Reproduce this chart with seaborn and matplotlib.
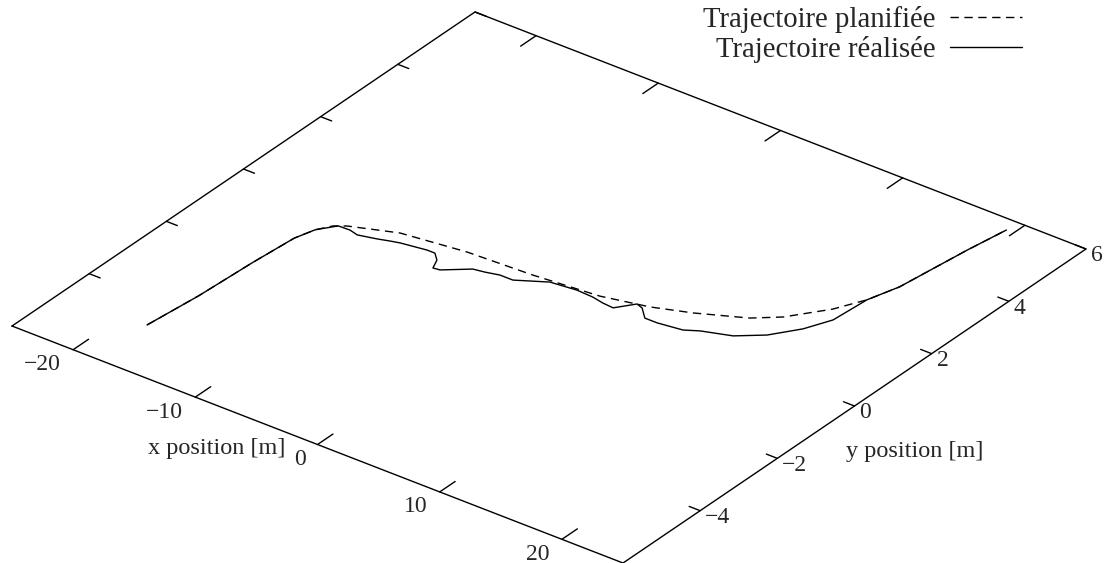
import numpy as np
import matplotlib
matplotlib.use("Agg")
import matplotlib.pyplot as plt
import matplotlib.transforms as mtransforms
import seaborn as sns

# ---- axes ranges / ticks ----
x_range = [-25, 25]
y_range = [-6, 6]
x_ticks = [-20, -10, 0, 10, 20]
x_tick_labels = ["\u221220", "\u221210", "0", "10", "20"]
y_ticks = [-4, -2, 0, 2, 4, 6]
y_tick_labels = ["\u22124", "\u22122", "0", "2", "4", "6"]

# ---- planned trajectory (m) ----
plan_x = [-18.05, -17.6, -17.35, -17.05, -16.6, -15.97, -15.24, -11.94, -6.99, -1.79,
          3.31, 6.75, 9.45, 12.8, 14.45, 16.43, 17.5, 18.2, 18.9, 19.4]
plan_y = [-4.70, -3.5, -2.2, -1.2, -0.8, -0.54, -0.41, -0.08, 0.09, 0.15,
          0.27, 0.48, 0.74, 1.15, 1.49, 2.15, 2.70, 3.32, 4.85, 5.71]

# ---- realised trajectory (m) ----
real_x = [-18.05, -17.6, -17.35, -17.05, -16.6, -15.7, -14.77, -14.02, -12.68, -11.85,
          -11.17, -9.23, -8.58, -7.94, -7.54, -7.02, -5.38, -4.52, -3.51, -2.45,
          -0.37, 1.65, 3.02, 4.0, 4.9, 5.85, 6.42, 7.34, 8.35, 10.24,
          11.2, 13.3, 15.0, 16.4, 17.28, 17.5, 18.2, 18.9, 19.4]
real_y = [-4.70, -3.5, -2.2, -1.2, -0.8, -0.49, -0.48, -0.53, -0.44, -0.37,
          -0.32, -0.24, -0.24, -0.39, -0.62, -0.60, -0.27, -0.23, -0.16, -0.16,
          0.14, 0.20, 0.18, 0.13, 0.11, 0.43, 0.38, 0.16, 0.16, 0.23,
          0.37, 0.56, 0.90, 1.39, 1.89, 2.70, 3.32, 4.85, 5.71]

legend_labels = ["Trajectoire planifi\u00e9e", "Trajectoire r\u00e9alis\u00e9e"]

sns.set_theme(style="white")
plt.rcParams["font.family"] = ["Liberation Serif", "DejaVu Serif"]
plt.rcParams["axes.unicode_minus"] = True

W, H = 1109, 563
fig = plt.figure(figsize=(W / 100, H / 100), dpi=100)
ax = fig.add_axes([0, 0, 1, 1])
ax.set_autoscale_on(False)
ax.set_xlim(0, W)
ax.set_ylim(H, 0)
ax.axis("off")

# oblique (gnuplot splot-like) projection of the base plane
proj = mtransforms.Affine2D(np.array([[12.22, 38.58, 549.0],
                                      [4.74, -26.17, 287.5],
                                      [0.0, 0.0, 1.0]]))
T = proj + ax.transData

lw = 1.0
x0, x1 = x_range
y0, y1 = y_range
ax.plot([x0, x1, x1, x0, x0], [y0, y0, y1, y1, y0], color="black", lw=lw, transform=T)
for xt in x_ticks:
    ax.plot([xt, xt], [y0, y0 + 0.4], color="black", lw=lw, transform=T)
    ax.plot([xt, xt], [y1, y1 - 0.4], color="black", lw=lw, transform=T)
for yt in y_ticks:
    ax.plot([x1, x1 - 0.9], [yt, yt], color="black", lw=lw, transform=T)
    ax.plot([x0, x0 + 0.9], [yt, yt], color="black", lw=lw, transform=T)

tick_fs = 17
xl_tr = mtransforms.offset_copy(T, fig=fig, x=-12, y=-15, units="dots")
for xt, lab in zip(x_ticks, x_tick_labels):
    ax.text(xt, y0, lab, transform=xl_tr, ha="right", va="center", fontsize=tick_fs)
yl_tr = mtransforms.offset_copy(T, fig=fig, x=5, y=-7, units="dots")
for yt, lab in zip(y_ticks, y_tick_labels):
    ax.text(x1, yt, lab, transform=yl_tr, ha="left", va="center", fontsize=tick_fs)

# axis titles
ax.text(0, y0, "x position [m]", transform=mtransforms.offset_copy(T, fig=fig, x=-32, y=-4, units="dots"),
        ha="right", va="center", fontsize=17.5)
ax.text(x1, 0, "y position [m]", transform=mtransforms.offset_copy(T, fig=fig, x=60, y=-45, units="dots"),
        ha="center", va="center", fontsize=17.5)

# trajectories
sns.lineplot(x=plan_x, y=plan_y, sort=False, ax=ax, color="black", lw=lw,
             linestyle=(0, (6, 4)), transform=T, label=legend_labels[0], legend=False)
sns.lineplot(x=real_x, y=real_y, sort=False, ax=ax, color="black", lw=lw,
             transform=T, label=legend_labels[1], legend=False)
ax.set_autoscale_on(False)
ax.set_xlim(0, W)
ax.set_ylim(H, 0)
ax.axis("off")

handles, labels = ax.get_legend_handles_labels()
ax.legend(handles, labels, loc="upper right", bbox_to_anchor=(1022, 6),
          bbox_transform=ax.transData, markerfirst=False, frameon=False,
          fontsize=20.7, handlelength=2.5, handletextpad=0.5, labelspacing=0.1,
          borderpad=0, borderaxespad=0)

fig.savefig("out.png", dpi=100)
